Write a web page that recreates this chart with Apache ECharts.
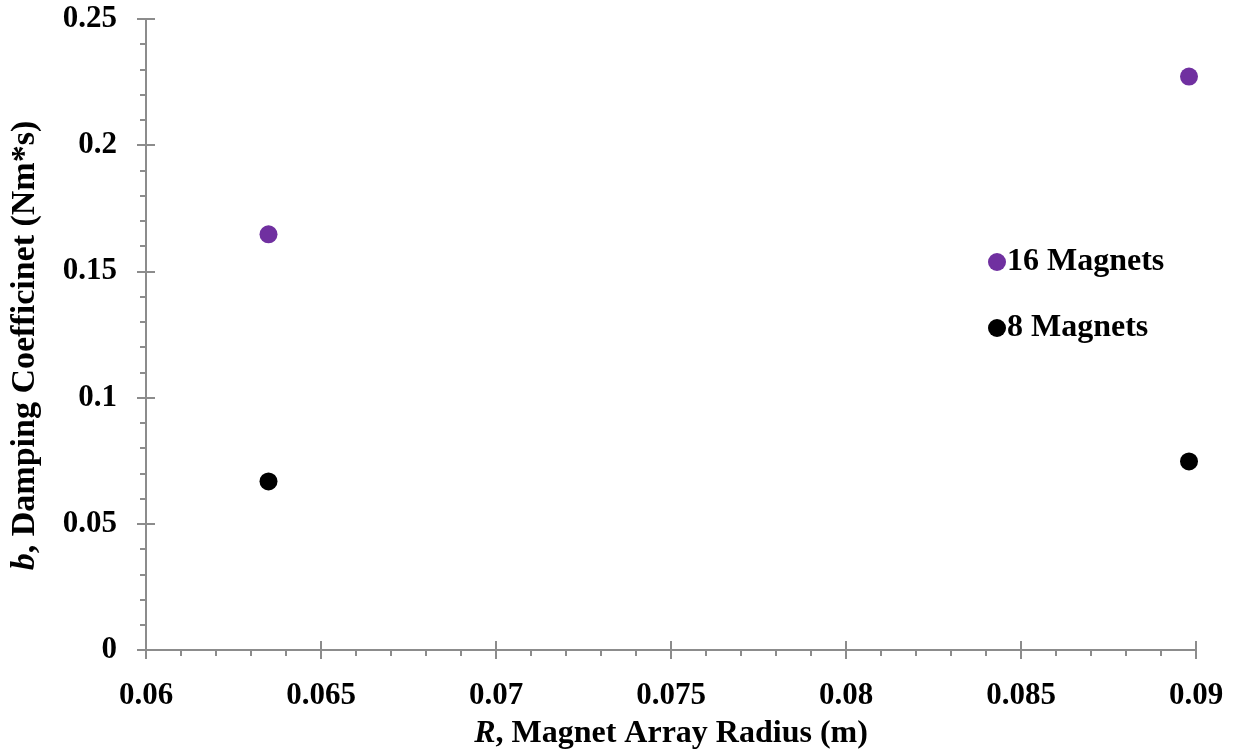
<!DOCTYPE html>
<html>
<head>
<meta charset="utf-8">
<script src="https://cdn.jsdelivr.net/npm/echarts@6/dist/echarts.min.js"></script>
<style>
  html, body { margin: 0; padding: 0; background: #fff; }
  #chart { width: 1236px; height: 755px; }
</style>
</head>
<body>
<div id="chart"></div>
<script>
  const radius16 = [0.0635, 0.0898]
  const damping16 = [0.1647, 0.2272]
  const radius8 = [0.0635, 0.0898]
  const damping8 = [0.0668, 0.0747]
  const seriesNames = ['16 Magnets', '8 Magnets']

  const font = 'Liberation Serif'
  const axisGray = '#8c8c8c'

  const chart = echarts.init(document.getElementById('chart'))

  const baseX = {
    type: 'value', min: 0.06, max: 0.09, interval: 0.005,
    splitLine: { show: false }
  }
  const baseY = {
    type: 'value', min: 0, max: 0.25, interval: 0.05,
    splitLine: { show: false }
  }

  chart.setOption({
    animation: false,
    textStyle: { fontFamily: font },
    grid: { left: 145, right: 40, top: 19, bottom: 104 },
    legend: {
      orient: 'vertical',
      left: 983, top: 241,
      itemGap: 34,
      itemWidth: 18, itemHeight: 18,
      icon: 'circle',
      data: seriesNames,
      textStyle: { fontFamily: font, fontWeight: 'bold', fontSize: 32, color: '#000', padding: [0, 0, 0, -4] }
    },
    xAxis: [
      Object.assign({}, baseX, {
        name: '{i|R}, Magnet Array Radius (m)',
        nameLocation: 'middle',
        nameGap: 68,
        nameTextStyle: {
          fontFamily: font, fontWeight: 'bold', fontSize: 32, color: '#000',
          rich: { i: { fontFamily: font, fontWeight: 'bold', fontStyle: 'italic', fontSize: 32, color: '#000' } }
        },
        axisLine: { lineStyle: { color: axisGray, width: 2 } },
        axisTick: { length: 9, lineStyle: { color: axisGray, width: 2 } },
        minorTick: { show: true, splitNumber: 5, length: 6, lineStyle: { color: axisGray, width: 2 } },
        axisLabel: { margin: 30, fontFamily: font, fontWeight: 'bold', fontSize: 31, color: '#000' }
      }),
      Object.assign({}, baseX, {
        position: 'bottom',
        axisLine: { show: false },
        axisTick: { inside: true, length: 9, lineStyle: { color: axisGray, width: 2 } },
        axisLabel: { show: false }
      })
    ],
    yAxis: [
      Object.assign({}, baseY, {
        name: '{i|b}, Damping Coefficinet (Nm*s)',
        nameLocation: 'middle',
        nameGap: 104,
        nameTextStyle: {
          fontFamily: font, fontWeight: 'bold', fontSize: 34, color: '#000',
          padding: [0, 22, 0, 0],
          rich: { i: { fontFamily: font, fontWeight: 'bold', fontStyle: 'italic', fontSize: 34, color: '#000' } }
        },
        axisLine: { lineStyle: { color: axisGray, width: 2 } },
        axisTick: { length: 9, lineStyle: { color: axisGray, width: 2 } },
        minorTick: { show: true, splitNumber: 5, length: 6, lineStyle: { color: axisGray, width: 2 } },
        axisLabel: { margin: 29, fontFamily: font, fontWeight: 'bold', fontSize: 31, color: '#000' }
      }),
      Object.assign({}, baseY, {
        position: 'left',
        axisLine: { show: false },
        axisTick: { inside: true, length: 9, lineStyle: { color: axisGray, width: 2 } },
        axisLabel: { show: false }
      })
    ],
    series: [
      {
        name: seriesNames[0], type: 'scatter', symbolSize: 18,
        itemStyle: { color: '#7030a0', opacity: 1 },
        data: radius16.map((r, i) => [r, damping16[i]])
      },
      {
        name: seriesNames[1], type: 'scatter', symbolSize: 18,
        itemStyle: { color: '#000000', opacity: 1 },
        data: radius8.map((r, i) => [r, damping8[i]])
      }
    ]
  })
</script>
</body>
</html>
